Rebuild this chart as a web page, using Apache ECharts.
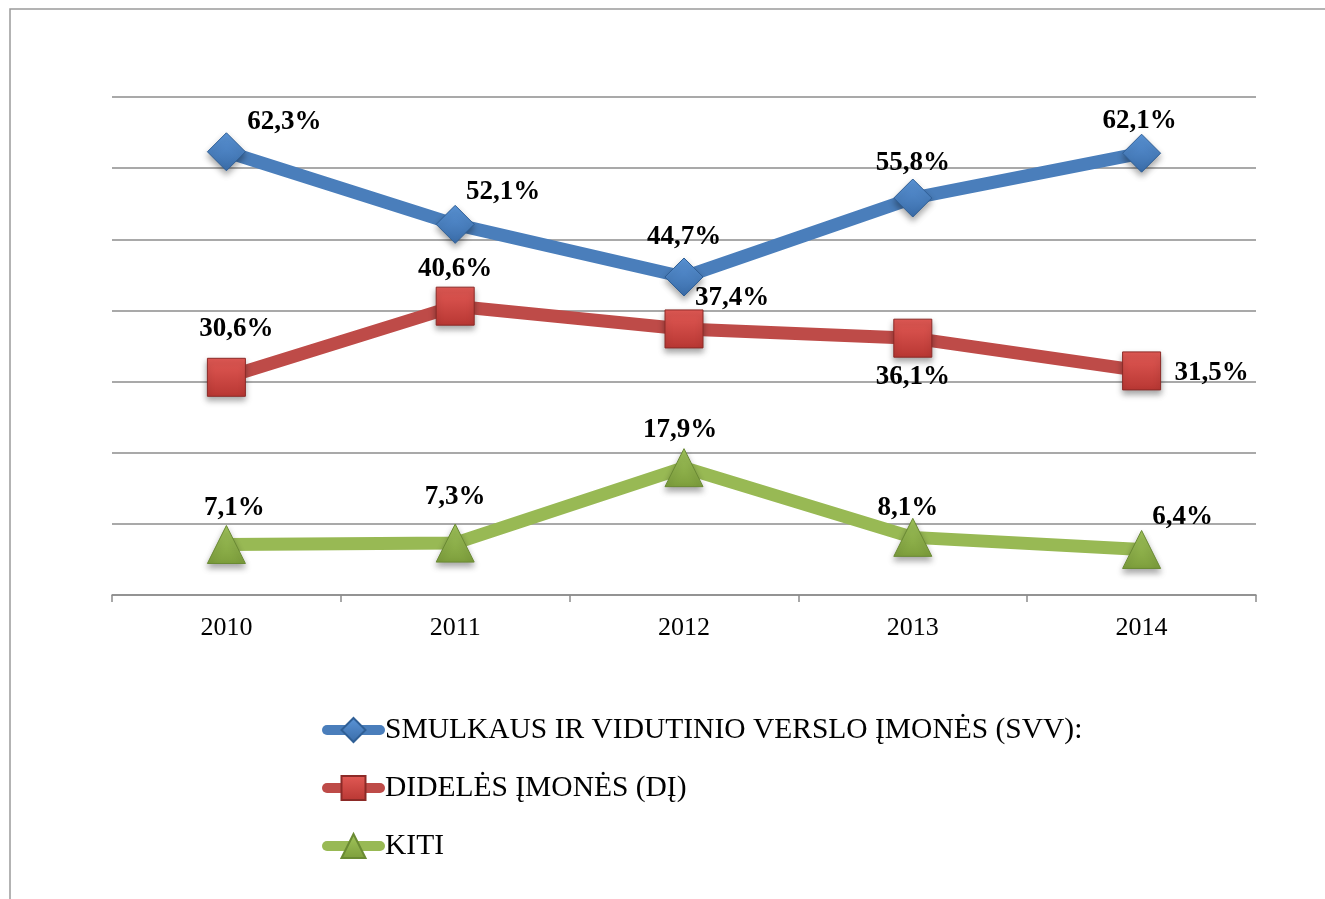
<!DOCTYPE html>
<html>
<head>
<meta charset="utf-8">
<script src="https://cdn.jsdelivr.net/npm/echarts@6/dist/echarts.min.js"></script>
<style>
  html, body { margin: 0; padding: 0; background: #fff; }
  #chart { width: 1325px; height: 899px; }
</style>
</head>
<body>
<div id="chart"></div>
<script>
const years = ["2010", "2011", "2012", "2013", "2014"];
const svvValues = [62.3, 52.1, 44.7, 55.8, 62.1];
const diValues = [30.6, 40.6, 37.4, 36.1, 31.5];
const kitiValues = [7.1, 7.3, 17.9, 8.1, 6.4];
const seriesNames = [
  "SMULKAUS IR VIDUTINIO VERSLO ĮMONĖS (SVV):",
  "DIDELĖS ĮMONĖS (DĮ)",
  "KITI",
];

// label offsets from the marker centre (layout only)
const svvOffsets = [[58, -30], [48, -32], [0, -40], [0, -35], [-2, -32]];
const diOffsets = [[10, -48], [0, -37], [48, -31], [0, 39], [70, 2]];
const kitiOffsets = [[8, -36], [0, -46], [-4, -38], [-5, -29], [41, -32]];

const serif = "'Liberation Serif', 'Times New Roman', serif";

const fmt = (v) => v.toFixed(1).replace(".", ",") + "%";

const withLabels = (values, offsets) =>
  values.map((v, i) => ({
    value: v,
    label: { offset: offsets[i] },
  }));

const grad = (top, bottom) =>
  new echarts.graphic.LinearGradient(0, 0, 0, 1, [
    { offset: 0, color: top },
    { offset: 1, color: bottom },
  ]);

const makeSeries = (name, values, offsets, lineColor, symbol, fillTop, fillBottom, border) => ({
  name: name,
  type: "line",
  data: withLabels(values, offsets),
  symbol: symbol,
  symbolSize: 38,
  showAllSymbol: true,
  lineStyle: { color: lineColor, width: 13 },
  itemStyle: {
    color: grad(fillTop, fillBottom),
    borderColor: border,
    borderWidth: 1,
    shadowBlur: 6,
    shadowOffsetY: 4,
    shadowColor: "rgba(0,0,0,0.35)",
  },
  label: {
    show: true,
    position: "inside",
    formatter: (p) => fmt(p.value),
    fontFamily: serif,
    fontWeight: "bold",
    fontSize: 27,
    color: "#000",
  },
  emphasis: { disabled: true },
  animation: false,
});

const chart = echarts.init(document.getElementById("chart"));

chart.setOption({
  backgroundColor: "#fff",
  animation: false,
  graphic: [
    {
      type: "rect",
      shape: { x: 10, y: 9, width: 1400, height: 1000 },
      style: { fill: "none", stroke: "#9a9a9a", lineWidth: 1.5 },
      silent: true,
    },
  ],
  grid: {
    left: 112,
    right: 69,
    top: 97,
    bottom: 304,
  },
  xAxis: {
    type: "category",
    data: years,
    boundaryGap: true,
    axisLine: { lineStyle: { color: "#8c8c8c", width: 1.5 } },
    axisTick: { show: true, length: 7, lineStyle: { color: "#8c8c8c", width: 1.5 } },
    axisLabel: {
      fontFamily: serif,
      fontSize: 26,
      color: "#000",
      margin: 20,
    },
  },
  yAxis: {
    type: "value",
    min: 0,
    max: 70,
    interval: 10,
    axisLine: { show: false },
    axisTick: { show: false },
    axisLabel: { show: false },
    splitLine: { lineStyle: { color: "#8c8c8c", width: 1.5 } },
  },
  legend: {
    orient: "vertical",
    left: 317,
    top: 710,
    itemWidth: 53,
    itemHeight: 30,
    itemGap: 28,
    data: seriesNames,
    lineStyle: { width: 10, cap: "round" },
    textStyle: {
      fontFamily: serif,
      fontSize: 29.5,
      color: "#000",
    },
  },
  series: [
    makeSeries(seriesNames[0], svvValues, svvOffsets, "#4a7ebb", "diamond", "#5b95d8", "#3a6ca8", "#2f5f96"),
    makeSeries(seriesNames[1], diValues, diOffsets, "#be4b48", "rect", "#e25a55", "#b83733", "#8c2a27"),
    makeSeries(seriesNames[2], kitiValues, kitiOffsets, "#98b954", "triangle", "#a2c65c", "#7d9e3c", "#6a8a33"),
  ],
});

window.onresize = function () {
  chart.resize();
};
</script>
</body>
</html>
